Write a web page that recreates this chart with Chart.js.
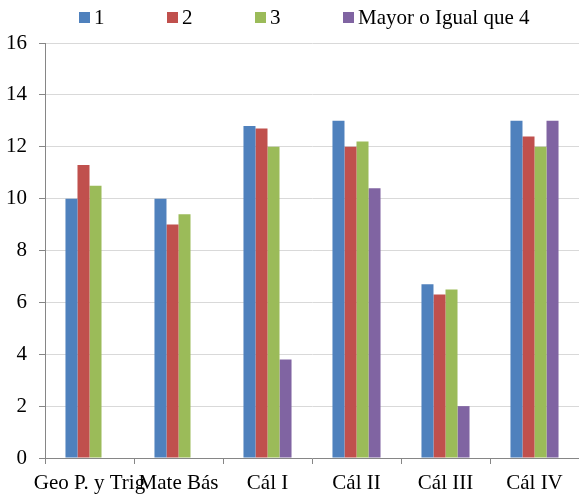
<!DOCTYPE html>
<html>
<head>
<meta charset="utf-8">
<script src="https://cdn.jsdelivr.net/npm/chart.js@4"></script>
<style>
  html, body { margin: 0; padding: 0; background: #fff; }
  #wrap { position: relative; width: 579px; height: 495px; }
  #legend { position: absolute; left: 0; top: 5px; width: 579px; height: 24px; }
  .item { position: absolute; top: 0; display: flex; align-items: center; height: 24px;
          font: 21px "Liberation Serif", "Times New Roman", serif; color: #000; white-space: nowrap; }
  .box { width: 11px; height: 11px; margin-right: 4px; }
</style>
</head>
<body>
<div id="wrap">
  <canvas id="chart"></canvas>
  <div id="legend"></div>
</div>
<script>
// Categories and series
const categories = ['Geo P. y Trig', 'Mate Bás', 'Cál I', 'Cál II', 'Cál III', 'Cál IV'];
const seriesNames = ['1', '2', '3', 'Mayor o Igual que 4'];
const serie1 = [10, 10, 12.8, 13, 6.7, 13];
const serie2 = [11.3, 9, 12.7, 12, 6.3, 12.4];
const serie3 = [10.5, 9.4, 12, 12.2, 6.5, 12];
const serie4 = [null, null, 3.8, 10.4, 2, 13];
const yTicks = [0, 2, 4, 6, 8, 10, 12, 14, 16];

const colors = ['#4F81BD', '#C0504D', '#9BBB59', '#8064A2'];
const font = { family: '"Liberation Serif", "Times New Roman", serif', size: 21 };

// Legend in HTML, evenly spaced like the original
const legendEl = document.getElementById('legend');
seriesNames.forEach((name, i) => {
  const item = document.createElement('div');
  item.className = 'item';
  item.style.left = (79 + 88 * i) + 'px';
  const box = document.createElement('span');
  box.className = 'box';
  box.style.background = colors[i];
  const txt = document.createElement('span');
  txt.textContent = name;
  item.appendChild(box);
  item.appendChild(txt);
  legendEl.appendChild(item);
});

const ctx = document.getElementById('chart').getContext('2d');
new Chart(ctx, {
  type: 'bar',
  data: {
    labels: categories,
    datasets: [serie1, serie2, serie3, serie4].map((d, i) => ({
      label: seriesNames[i],
      data: d,
      backgroundColor: colors[i],
      borderWidth: 0,
      barPercentage: 1,
      categoryPercentage: 0.54
    }))
  },
  options: {
    responsive: true,
    maintainAspectRatio: false,
    animation: false,
    layout: { padding: { left: 0, right: 0, top: 43, bottom: 0 } },
    plugins: {
      tooltip: { enabled: false },
      legend: { display: false }
    },
    scales: {
      x: {
        afterFit: scale => { scale.height = 37; },
        grid: {
          display: true,
          drawOnChartArea: false,
          offset: true,
          tickLength: 6,
          color: '#868686'
        },
        border: { color: '#868686', width: 1 },
        ticks: {
          font: font,
          color: '#000',
          autoSkip: false,
          maxRotation: 0,
          minRotation: 0,
          padding: 7
        }
      },
      y: {
        min: 0,
        max: 16,
        afterBuildTicks: scale => { scale.ticks = yTicks.map(v => ({ value: v })); },
        afterFit: scale => { scale.width = 45; },
        grid: {
          color: '#D9D9D9',
          tickLength: 6,
          tickColor: '#868686'
        },
        border: { color: '#868686', width: 1 },
        ticks: {
          font: font,
          color: '#000',
          padding: 12
        }
      }
    }
  }
});
</script>
</body>
</html>
